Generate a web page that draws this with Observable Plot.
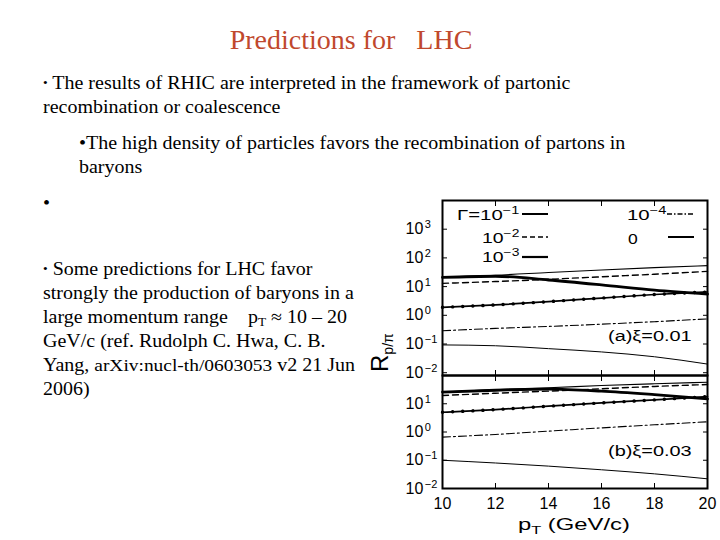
<!DOCTYPE html>
<html><head><meta charset="utf-8">
<script src="https://cdn.jsdelivr.net/npm/d3@7"></script>
<script src="https://cdn.jsdelivr.net/npm/@observablehq/plot@0.6"></script>
<style>
html,body{margin:0;padding:0;background:#fff;}
body{width:720px;height:540px;overflow:hidden;position:relative;font-family:"Liberation Serif","Times New Roman",serif;color:#000;}
.t{position:absolute;font-size:18px;line-height:24px;white-space:pre;transform:scaleX(1.11);transform-origin:0 50%;}
.b{font-size:12px;position:relative;top:-2px;}
sub{font-size:12px;line-height:0;vertical-align:-3px;}
#title{position:absolute;left:0;top:24px;width:702px;text-align:center;font-size:28px;line-height:32px;white-space:pre;color:#c0482d;}
.chart{position:absolute;left:360px;}
.chart svg{background:transparent !important;overflow:visible;}
#overlay{position:absolute;left:0;top:0;}
</style></head><body>
<div id="title">Predictions for   LHC</div>
<div class="t" style="left:43px;top:71px"><span class="b">•</span> The results of RHIC are interpreted in the framework of partonic</div>
<div class="t" style="left:43px;top:95px">recombination or coalescence</div>
<div class="t" style="left:79px;top:131px">•The high density of particles favors the recombination of partons in</div>
<div class="t" style="left:79px;top:155px">baryons</div>
<div class="t" style="left:43px;top:191px">•</div>
<div class="t" style="left:43px;top:257px"><span class="b">•</span> Some predictions for LHC favor</div>
<div class="t" style="left:43px;top:281px">strongly the production of baryons in a</div>
<div class="t" style="left:43px;top:305px">large momentum range    p<sub>T</sub> ≈ 10 – 20</div>
<div class="t" style="left:43px;top:329px">GeV/c (ref. Rudolph C. Hwa, C. B.</div>
<div class="t" style="left:43px;top:353px">Yang, <span style="font-size:17.5px">arXiv:nucl-th/0603053</span> v2 21 Jun</div>
<div class="t" style="left:43px;top:377px">2006)</div>
<div id="top" class="chart" style="top:190px"></div>
<div id="bot" class="chart" style="top:375px"></div>
<svg id="overlay" width="720" height="540"></svg>
<script>
// ---- data ----
const pT = [10, 12, 14, 16, 18, 20];
const xTicks = [10, 12, 14, 16, 18, 20];
const yTicksTop = [1e-2, 1e-1, 1, 10, 100, 1000];
const yTicksBottom = [1e-2, 1e-1, 1, 10];

// panel (a) xi = 0.01
const a_upper   = [22, 25, 31, 38, 46, 54];
const a_dashed  = [13, 15, 18, 22, 27, 34];
const a_thick   = [21, 23, 17, 11.5, 7.5, 5.5];
const a_dotted  = [1.9, 2.3, 3.0, 4.0, 5.3, 6.5];
const a_dashdot = [0.29, 0.35, 0.41, 0.49, 0.6, 0.75];
const a_lower   = [0.093, 0.087, 0.069, 0.053, 0.036, 0.02];

// panel (b) xi = 0.03
const b_upper   = [26, 32, 37, 44, 51, 58];
const b_dashed  = [19.6, 23.6, 28, 34, 41, 48];
const b_thick   = [26, 30, 33, 28, 21, 15];
const b_dotted  = [5.0, 6.2, 8.2, 10.7, 13.7, 18];
const b_dashdot = [0.66, 0.82, 1.07, 1.4, 1.8, 2.3];
const b_lower   = [0.1, 0.08, 0.062, 0.046, 0.033, 0.022];

const notes = ["(a)ξ=0.01", "(b)ξ=0.03"];
const legendBase = ["Γ=10", "10", "10", "10", "0"];
const legendExp = ["−1", "−2", "−3", "−4", ""];

// ---- styles ----
const lineStyles = {
  upper:   {strokeWidth: 1.1},
  dashed:  {strokeWidth: 1.4, strokeDasharray: "6,4"},
  thick:   {strokeWidth: 2.8},
  dotted:  {strokeWidth: 1.7},
  dashdot: {strokeWidth: 1.1, strokeDasharray: "8,3,2,3"},
  lower:   {strokeWidth: 1}
};
const ns = "http://www.w3.org/2000/svg";
const expFmt = d => String(Math.round(Math.log10(d))).replace("-", "−");
const blank = () => "";

function panel(series, yDomain, yTicks, layout) {
  const marks = [];
  for (const key of Object.keys(series)) {
    const rows = pT.map((x, i) => ({x, y: series[key][i]}));
    marks.push(Plot.line(rows, {x: "x", y: "y", stroke: "#000", curve: "monotone-x", ...lineStyles[key]}));
    if (key === "dotted") marks.push(Plot.line(rows, {x: "x", y: "y", stroke: "#000", strokeWidth: 3.4, strokeLinecap: "round", strokeDasharray: "0.1,10", curve: "monotone-x"}));
  }
  marks.push(
    Plot.axisY(yTicks, {anchor: "left", tickSize: -5, tickFormat: blank, label: null}),
    Plot.axisY(yTicks, {anchor: "right", tickSize: -5, tickFormat: blank, label: null}),
    Plot.axisY(yTicks, {anchor: "left", tickSize: 0, tickPadding: 37, textAnchor: "start", tickFormat: expFmt, label: null, fontSize: 16}),
    Plot.axisX(xTicks, {anchor: "top", tickSize: -5, tickFormat: blank, label: null}),
    Plot.axisX(xTicks, {anchor: "bottom", tickSize: -5, tickFormat: blank, label: null})
  );
  if (layout.xLabels) marks.push(Plot.axisX(xTicks, {anchor: "bottom", tickSize: 0, tickPadding: 9, label: null, fontSize: 16}));
  marks.push(Plot.frame({stroke: "#000", strokeWidth: 2}));
  const svg = Plot.plot({
    width: 360, height: layout.height,
    marginLeft: 82, marginRight: 13, marginTop: layout.marginTop, marginBottom: layout.marginBottom,
    x: {domain: [10, 20]},
    y: {type: "log", domain: yDomain},
    style: {fontFamily: "'Liberation Sans', Arial, sans-serif", fontSize: "16px", background: "transparent", color: "#000"},
    marks
  });
  // superscript exponents on the y tick labels
  svg.querySelectorAll('g[aria-label="y-axis tick label"] text').forEach(t => {
    const e = t.textContent;
    if (!e) return;
    t.textContent = "";
    const a = document.createElementNS(ns, "tspan"); a.textContent = "10"; t.appendChild(a);
    const b = document.createElementNS(ns, "tspan"); b.textContent = e;
    b.setAttribute("font-size", "11"); b.setAttribute("dy", "-0.55em"); b.setAttribute("dx", "1.5");
    t.appendChild(b);
  });
  return svg;
}

document.getElementById("top").appendChild(panel(
  {upper: a_upper, dashed: a_dashed, thick: a_thick, dotted: a_dotted, dashdot: a_dashdot, lower: a_lower},
  [0.008, 1e4], yTicksTop, {height: 185, marginTop: 10, marginBottom: 0, xLabels: false}));
document.getElementById("bot").appendChild(panel(
  {upper: b_upper, dashed: b_dashed, thick: b_thick, dotted: b_dotted, dashdot: b_dashdot, lower: b_lower},
  [1e-2, 1e2], yTicksBottom, {height: 165, marginTop: 0, marginBottom: 52, xLabels: true}));

// ---- overlay: axis titles, notes, legend ----
const ov = d3.select("#overlay");
const SANS = "'Liberation Sans', Arial, sans-serif";
function stretchText(x, y, parts, size, width, rotate) {
  const g = ov.append("g").attr("transform", `translate(${x},${y})`);
  const t = g.append("text").attr("font-family", SANS).attr("font-size", size).attr("fill", "#000");
  let base = 0;
  for (const p of parts) {
    const off = p.shift || 0;
    const ts = t.append("tspan").text(p.text).attr("dy", off - base);
    if (p.size) ts.attr("font-size", p.size);
    base = off;
  }
  const w = t.node().getBBox().width;
  const s = width ? width / w : 1;
  g.attr("transform", `translate(${x},${y})${rotate ? ` rotate(${rotate})` : ""} scale(${s},1)`);
}
// axis titles
stretchText(518, 530, [{text: "p"}, {text: "T", shift: 4, size: 11}, {text: " (GeV/c)", shift: 0}], 16, 112);
stretchText(388, 372, [{text: "R"}, {text: "p/π", shift: 5, size: 14}], 24, null, -90);
// panel notes
stretchText(608, 341, [{text: notes[0]}], 14, 84);
stretchText(608, 456, [{text: notes[1]}], 14, 84);
// legend
const legendPos = [[457, 220, 63], [482, 243, 38], [482, 262, 38], [627, 220, 40], [628, 244, 10]];
const legendLine = [
  {x: 522, y: 214, w: 2},
  {x: 522, y: 237, w: 1.6, dash: "5,3"},
  {x: 522, y: 257, w: 2.2},
  {x: 667, y: 214, w: 1.3, dash: "5,2,1.5,2"},
  {x: 668, y: 237, w: 2}
];
legendBase.forEach((b, i) => {
  const [x, y, w] = legendPos[i];
  const parts = [{text: b}];
  if (legendExp[i]) parts.push({text: legendExp[i], shift: -6, size: 10});
  stretchText(x, y, parts, 14, w);
  const L = legendLine[i];
  ov.append("line").attr("x1", L.x).attr("x2", L.x + 26).attr("y1", L.y).attr("y2", L.y)
    .attr("stroke", "#000").attr("stroke-width", L.w).attr("stroke-dasharray", L.dash || null);
});
</script>
</body></html>
